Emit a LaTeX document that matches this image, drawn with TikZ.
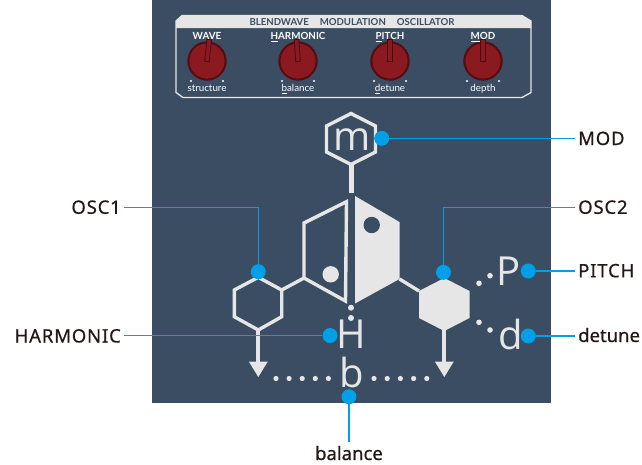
\documentclass[tikz,border=0pt]{standalone}
\usepackage{fontspec}
\setmainfont{Noto Sans}[FakeBold=0.6]
\newfontfamily\capsfont{Noto Sans}[LetterSpace=4.5, FakeBold=0.6]
\newfontfamily\glyphfont{Open Sans}
\newfontfamily\panelfont{Lato}
\usetikzlibrary{calc}

\definecolor{panel}{HTML}{3A4D63}
\definecolor{ink}{HTML}{E6E6E6}
\definecolor{callout}{HTML}{009FE8}
\definecolor{knobred}{HTML}{8A1A1F}
\definecolor{knobdark}{HTML}{4A0A0E}
\definecolor{labeltext}{HTML}{231815}

\tikzset{
  struct/.style={draw=ink, line width=3.4, line join=miter},
  glyph/.style={text=ink, inner sep=0, font=\glyphfont\fontsize{40}{44}\selectfont},
  cdot/.style={circle, fill=callout, minimum size=15, inner sep=0},
  cline/.style={draw=callout, line width=1.5},
  lbl/.style={text=labeltext, inner ysep=0, inner xsep=3, text height=13, text depth=0,
              font=\fontsize{18.5}{21}\selectfont},
  caplbl/.style={lbl, font=\capsfont\fontsize{18.5}{21}\selectfont},
  knobtop/.style={text=white, inner sep=0, anchor=base, font=\panelfont\bfseries\fontsize{9.8}{11}\selectfont},
  knobbot/.style={text=white, inner sep=0, anchor=base, font=\panelfont\fontsize{9.8}{11}\selectfont},
  titletext/.style={text=panel, inner sep=0, font=\panelfont\bfseries\fontsize{9.6}{11}\selectfont},
}

\begin{document}
\begin{tikzpicture}[x=1pt,y=-1pt]
\useasboundingbox (0,0) rectangle (642,464);

% synth panel
\fill[panel] (152,0) rectangle (551,403);

% control strip with chamfered frame
\fill[ink] (176,21) -- (182,15.5) -- (522,15.5) -- (531,21) -- (531,28) -- (176,28) -- cycle;
\draw[ink, line width=1.3] (176,21) -- (182,15.5) -- (522,15.5) -- (531,21) -- (531,92.5)
  -- (522,97.5) -- (183,97.5) -- (176,92.5) -- cycle;
\node[titletext] (title) at (352,22.3) {BLENDWAVE\hspace{11pt}MODULATION\hspace{11pt}OSCILLATOR};

% four knobs
\foreach \cx/\tilt/\toptext/\bottext/\nm in {
  207/-6/{WAVE}/{structure}/wave,
  298/4/{\underline{H}ARMONIC}/{\underline{b}alance}/harm,
  390/0/{\underline{P}ITCH}/{\underline{d}etune}/pitch,
  483/0/{\underline{M}OD}/{depth}/mod}{
  \fill[knobdark] (\cx,61) circle (19.6);
  \draw[knobred!70!black, line width=1.4, dash pattern=on 0.9pt off 0.9pt] (\cx,61) circle (18.9);
  \fill[knobred] (\cx,61) circle (17.6);
  \begin{scope}[shift={(\cx,61)}, rotate=\tilt]
    \filldraw[fill=knobred, draw=knobdark, line width=0.8] (-2.3,-21.5) rectangle (2.3,0.5);
  \end{scope}
  \fill[white] (\cx-16,81) circle (1.2);
  \fill[white] (\cx+16,81) circle (1.2);
  \node[knobtop] (top-\nm) at (\cx,39.3) {\toptext};
  \node[knobbot] (bot-\nm) at (\cx,91.5) {\bottext};
}

% modulator hexagon and stem
\draw[struct] (351,113.5) -- (375.5,126) -- (375.5,152) -- (351,164.5) -- (326.5,152) -- (326.5,126) -- cycle;
\node[glyph] (m) at (351.7,140) {m};
\draw[ink, line width=5] (351,164.5) -- (351,193);

% blend core: open left half, solid right half
\draw[struct] (346.5,201.7) -- (304,223) -- (304,278) -- (345.5,301) -- cycle;
\fill[ink] (330.7,274.3) circle (8.2);
\fill[ink] (355,196) -- (399.5,222) -- (399.5,279) -- (355,303.5) -- cycle;
\fill[panel] (371.7,225) circle (8.2);

% oscillator hexagons
\draw[struct] (304,278) -- (281.7,290);
\draw[struct] (399.5,279) -- (419,291);
\draw[struct] (258.3,277.3) -- (281.7,290) -- (281.7,316.7) -- (258.3,330) -- (234.3,316.7) -- (234.3,290) -- cycle;
\fill[ink] (444.3,278) -- (469.5,291) -- (469.5,318) -- (444.3,331) -- (419,318) -- (419,291) -- cycle;

% outputs
\foreach \ax in {258.3,444.3}{
  \draw[ink, line width=4] (\ax,330) -- (\ax,363);
  \fill[ink] (\ax-9.5,361.5) -- (\ax+9.5,361.5) -- (\ax,377) -- cycle;
}

% dotted guides
\foreach \x in {276,289.1,302.2,315.3,328.4,374,387.2,400.4,413.6,426.8}
  \fill[ink] (\x,378.5) circle (2.6);
\fill[ink] (351,307.7) circle (3);
\fill[ink] (351,318) circle (3);
\fill[ink] (479,283.3) circle (2.8);
\fill[ink] (490,275.7) circle (2.8);
\fill[ink] (479,322.3) circle (2.8);
\fill[ink] (490,330) circle (2.8);

% letter glyphs
\node[glyph] (H) at (351,334.7) {H};
\node[glyph] (b) at (352,372.3) {b};
\node[glyph] (P) at (508.5,271) {P};
\node[glyph] (d) at (511,334.7) {d};

% callout labels
\node[caplbl, anchor=west] (lmod) at (575,138.5) {MOD};
\node[caplbl, anchor=west] (losc2) at (575,207.3) {OSC2};
\node[caplbl, anchor=west] (lpitch) at (575,270.8) {PITCH};
\node[lbl, anchor=west] (ldet) at (575,335.5) {detune};
\node[caplbl, anchor=east] (losc1) at (124,207.3) {OSC1};
\node[caplbl, anchor=east] (lharm) at (124,336) {HARMONIC};
\node[lbl] (lbal) at (349,453.5) {balance};

% callout dots
\node[cdot] (dmod) at (381.7,138.3) {};
\node[cdot] (dosc1) at (258.3,271.7) {};
\node[cdot] (dosc2) at (443.5,272.3) {};
\node[cdot] (dpitch) at (528.3,271) {};
\node[cdot] (ddet) at (528.3,336) {};
\node[cdot] (dharm) at (330,335.5) {};
\node[cdot] (dbal) at (349,396.7) {};

% callout leaders
\draw[cline] (dmod) -- (dmod -| lmod.west);
\draw[cline] (dosc2) |- (losc2.west);
\draw[cline] (dpitch) -- (dpitch -| lpitch.west);
\draw[cline] (ddet) -- (ddet -| ldet.west);
\draw[cline] (dosc1) |- (losc1.east);
\draw[cline] (dharm) -- (dharm -| lharm.east);
\draw[cline] (dbal) -- ([yshift=5pt]lbal.north);
\end{tikzpicture}
\end{document}
